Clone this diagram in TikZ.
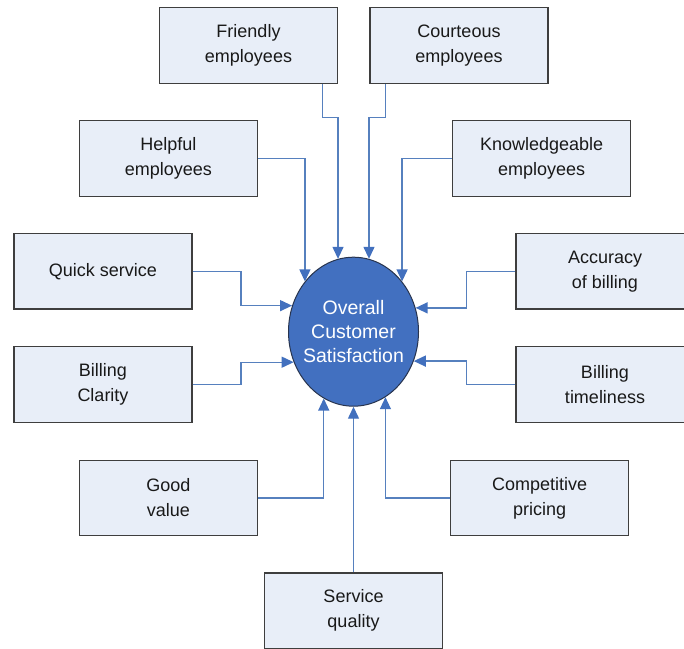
\documentclass[tikz,border=0pt]{standalone}
\usepackage{fontspec}
\setmainfont{Liberation Sans}
\usetikzlibrary{shapes.geometric,arrows.meta}

\definecolor{boxfill}{RGB}{232,238,248}
\definecolor{boxline}{RGB}{62,62,62}
\definecolor{linkcol}{RGB}{86,128,190}
\definecolor{tipcol}{RGB}{66,112,190}
\definecolor{hubfill}{RGB}{66,112,192}
\definecolor{hubline}{RGB}{40,52,78}

\tikzset{
  factor/.style={draw=boxline, line width=1.3pt, fill=boxfill,
    minimum width=178pt, minimum height=75.5pt, inner sep=0pt,
    align=center, text=black!90,
    font=\fontsize{18}{25}\selectfont},
  hub/.style={ellipse, draw=hubline, line width=1pt, fill=hubfill,
    minimum width=130pt, minimum height=149pt,
    inner xsep=-8pt, inner ysep=0pt,
    align=center, text=white,
    font=\fontsize{19.5}{24}\selectfont},
  link/.style={draw=linkcol, line width=1.3pt,
    -{Triangle[length=12pt,width=11pt,color=tipcol]}}
}

\begin{document}
\begin{tikzpicture}[x=1pt,y=-1pt]
  \useasboundingbox (0,0) rectangle (684,648);
  \clip (0,0) rectangle (684,648);

  % central outcome
  \node[hub] (el) at (353.5,331.7) {Overall\\Customer\\Satisfaction};

  % contributing factors
  \node[factor] (fr) at (248.5,45.5)  {Friendly\\employees};
  \node[factor] (co) at (459,45.5)    {Courteous\\employees};
  \node[factor] (he) at (168.3,158.5) {Helpful\\employees};
  \node[factor] (kn) at (541.7,158.5) {Knowledgeable\\employees};
  \node[factor] (qs) at (103,271.3)   {Quick service};
  \node[factor] (ac) at (605,271.3)   {Accuracy\\of billing};
  \node[factor] (bc) at (103,384.5)   {Billing\\Clarity};
  \node[factor] (bt) at (605,384.5)   {Billing\\timeliness};
  \node[factor] (gv) at (168.3,498)   {Good\\value};
  \node[factor] (cp) at (539.7,498)   {Competitive\\pricing};
  \node[factor] (sq) at (353.5,610.8) {Service\\quality};

  % elbow connectors into the hub
  \draw[link] ([xshift=-16pt]fr.south east) -- ++(0,33.7) -| (el.102);
  \draw[link] ([xshift=16pt]co.south west) -- ++(0,33.7) -| (el.78);
  \draw[link] (he.east) -| (el.134);
  \draw[link] (kn.west) -| (el.46);
  \draw[link] (qs.east) -- ++(48.4,0) |- (el.157.3);
  \draw[link] (bc.east) -- ++(48.4,0) |- (el.207.5);
  \draw[link] (ac.west) -- ++(-48.7,0) |- (el.21.5);
  \draw[link] (bt.west) -- ++(-48.7,0) |- (el.-26.6);
  \draw[link] (gv.east) -| (el.246.5);
  \draw[link] (cp.west) -| (el.296.3);
  \draw[link] (sq.north) -- (el.south);
\end{tikzpicture}
\end{document}
